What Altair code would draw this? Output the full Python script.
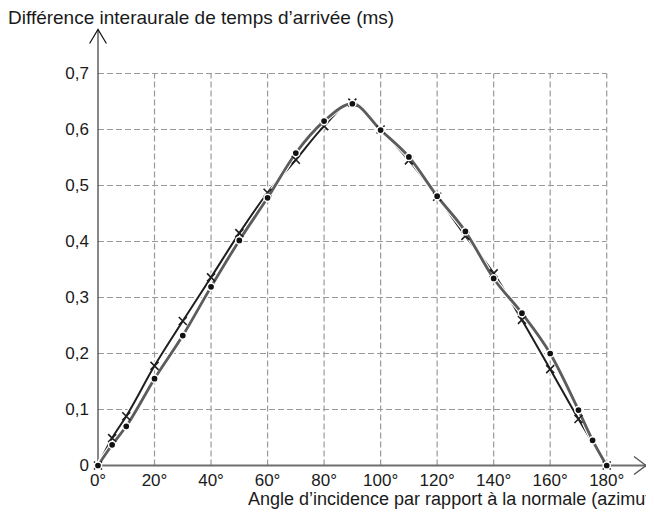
import altair as alt
import pandas as pd

# ---- data ----
angles_dot = [0, 5, 10, 20, 30, 40, 50, 60, 70, 80, 90, 100, 110, 120, 130, 140, 150, 160, 170, 175, 180]
itd_dot = [0, 0.037, 0.070, 0.155, 0.232, 0.319, 0.402, 0.478, 0.558, 0.615, 0.646, 0.599, 0.551,
           0.481, 0.418, 0.334, 0.272, 0.200, 0.099, 0.045, 0]

angles_cross = [0, 5, 10, 20, 30, 40, 50, 60, 70, 80, 90, 100, 110, 120, 130, 140, 150, 160, 170, 180]
itd_cross = [0, 0.049, 0.088, 0.178, 0.258, 0.336, 0.415, 0.487, 0.546, 0.606, 0.648, 0.600, 0.545,
             0.480, 0.410, 0.343, 0.260, 0.172, 0.083, 0]

x_ticks = [0, 20, 40, 60, 80, 100, 120, 140, 160, 180]
x_labels = ["0°", "20°", "40°", "60°", "80°", "100°", "120°", "140°", "160°", "180°"]
y_ticks = [0, 0.1, 0.2, 0.3, 0.4, 0.5, 0.6, 0.7]
y_labels = ["0", "0,1", "0,2", "0,3", "0,4", "0,5", "0,6", "0,7"]

x_title = "Angle d’incidence par rapport à la normale (azimut)"
y_title = "Différence interaurale de temps d’arrivée (ms)"

W, H = 548, 436
X_MAX = 193.9
Y_MAX = 0.7786

dot_df = pd.DataFrame({"angle": angles_dot, "itd": itd_dot})
cross_df = pd.DataFrame({"angle": angles_cross, "itd": itd_cross})
vgrid = pd.DataFrame({"angle": x_ticks[1:], "y0": [0] * 9, "y1": [0.7] * 9})
hgrid = pd.DataFrame({"itd": y_ticks[1:], "x0": [0] * 7, "x1": [180] * 7})
xlab_df = pd.DataFrame({"angle": x_ticks, "itd": [0] * len(x_ticks), "label": x_labels})
ylab_df = pd.DataFrame({"angle": [0] * len(y_ticks), "itd": y_ticks, "label": y_labels})
xdom = pd.DataFrame({"x0": [0], "x1": [X_MAX], "itd": [0]})
ydom = pd.DataFrame({"angle": [0], "y0": [0], "y1": [Y_MAX]})
x_arrow = pd.DataFrame({"angle": [X_MAX], "itd": [0]})
y_arrow = pd.DataFrame({"angle": [0], "itd": [Y_MAX]})

xscale = alt.Scale(domain=[0, X_MAX], nice=False, zero=False)
yscale = alt.Scale(domain=[0, Y_MAX], nice=False, zero=False)

TXT = "#1a1a1a"
FS_TICK = 17
FONT = "Liberation Sans"

def X(f):
    return alt.X(f, scale=xscale, axis=None)

def Y(f):
    return alt.Y(f, scale=yscale, axis=None)

grid_style = dict(color="#9a9a9a", strokeWidth=1.2, strokeDash=[6, 3])

vrules = alt.Chart(vgrid).mark_rule(**grid_style).encode(x=X("angle:Q"), y=Y("y0:Q"), y2="y1:Q")
hrules = alt.Chart(hgrid).mark_rule(**grid_style).encode(y=Y("itd:Q"), x=X("x0:Q"), x2="x1:Q")

x_domain = alt.Chart(xdom).mark_rule(color="#6e6e6e", strokeWidth=2).encode(
    x=X("x0:Q"), x2="x1:Q", y=Y("itd:Q"))
y_domain = alt.Chart(ydom).mark_rule(color="#111111", strokeWidth=1).encode(
    x=X("angle:Q"), y=Y("y0:Q"), y2="y1:Q")

x_lab = alt.Chart(xlab_df).mark_text(
    font=FONT, fontSize=FS_TICK, color=TXT, align="center", baseline="middle", dy=15.5
).encode(x=X("angle:Q"), y=Y("itd:Q"), text="label:N")
y_lab = alt.Chart(ylab_df).mark_text(
    font=FONT, fontSize=FS_TICK, color=TXT, align="right", baseline="middle", dx=-9
).encode(x=X("angle:Q"), y=Y("itd:Q"), text="label:N")

x_tit = alt.Chart(pd.DataFrame({"t": [x_title]})).mark_text(
    font=FONT, fontSize=18, color=TXT, align="left", baseline="alphabetic"
).encode(x=alt.value(150), y=alt.value(H + 39.5), text="t:N")
y_tit = alt.Chart(pd.DataFrame({"t": [y_title]})).mark_text(
    font=FONT, fontSize=19, color=TXT, align="left", baseline="alphabetic"
).encode(x=alt.value(-90), y=alt.value(-5.5), text="t:N")

def enc(ch):
    return ch.encode(x=X("angle:Q"), y=Y("itd:Q"))

cross_halo = enc(alt.Chart(cross_df).mark_line(color="white", strokeWidth=4.5, interpolate="monotone"))
cross_line = enc(alt.Chart(cross_df).mark_line(color="#1e1e1e", strokeWidth=2, interpolate="monotone"))
dot_halo = enc(alt.Chart(dot_df).mark_line(color="white", strokeWidth=5, interpolate="monotone"))
dot_line = enc(alt.Chart(dot_df).mark_line(color="#5c5c5c", strokeWidth=2.8, interpolate="monotone"))

cross_pts = enc(alt.Chart(cross_df).mark_point(
    shape="M-1,-1L1,1M-1,1L1,-1", filled=False, stroke="#1e1e1e",
    strokeWidth=1.6, size=64, opacity=1))
dot_pts = enc(alt.Chart(dot_df).mark_point(
    shape="circle", filled=True, fill="#111111", stroke="white",
    strokeWidth=1.5, size=52, opacity=1))

xa = enc(alt.Chart(x_arrow).mark_point(
    shape="M-1,-0.75L0,0L-1,0.75", filled=False, stroke="#555555",
    strokeWidth=1.4, size=576, opacity=1))
ya = enc(alt.Chart(y_arrow).mark_point(
    shape="M-0.6,1L0,0L0.6,1", filled=False, stroke="#111111",
    strokeWidth=1.2, size=784, opacity=1))

chart = alt.layer(
    vrules, hrules, x_domain, y_domain, x_lab, y_lab, x_tit, y_tit,
    cross_halo, cross_line, dot_halo, dot_line, cross_pts, dot_pts, xa, ya
).properties(
    width=W, height=H,
    padding={"left": 90, "top": 21.5, "right": 0, "bottom": 43},
    autosize=alt.AutoSizeParams(type="none"),
).configure(
    font=FONT, background="white",
    view=alt.ViewConfig(stroke=None),
)

chart.save("out.html", embed_options={"renderer": "svg", "actions": False})
